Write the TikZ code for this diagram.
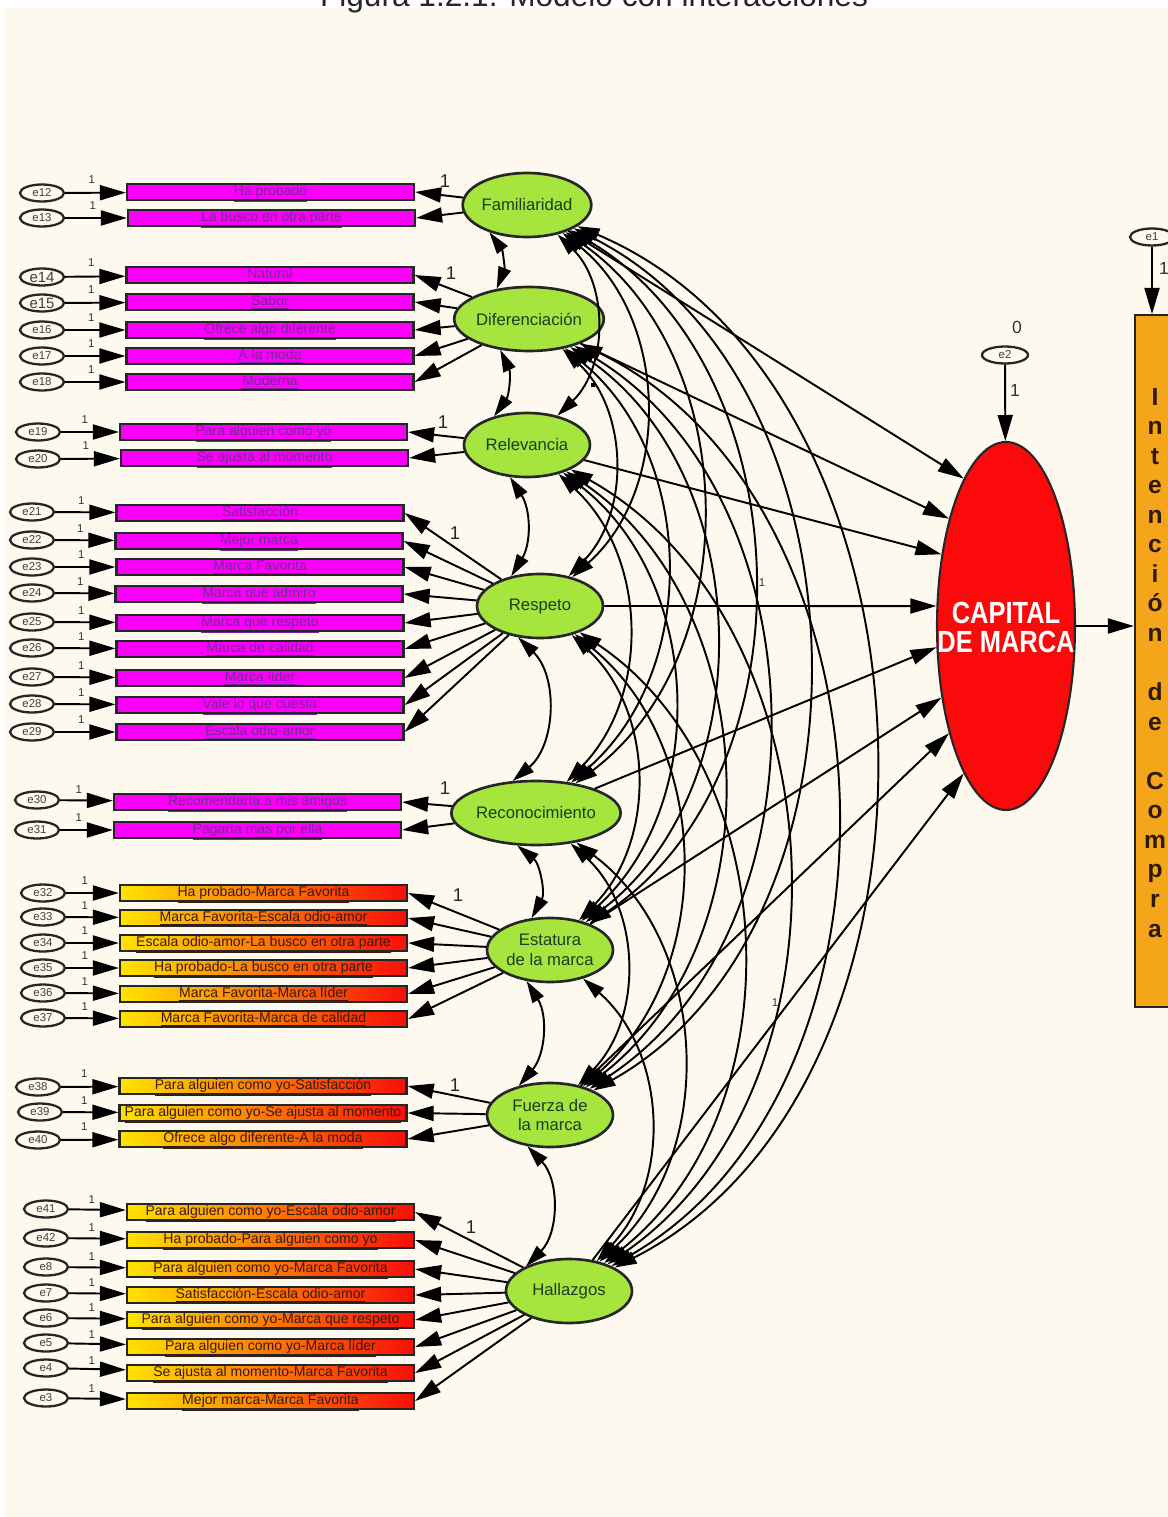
\documentclass[tikz,border=0pt]{standalone}
\usepackage{fontspec}
\setmainfont{Liberation Sans}
\usetikzlibrary{shapes.geometric,arrows.meta}
\definecolor{paper}{RGB}{253,249,238}
\definecolor{boxmag}{RGB}{250,0,250}
\definecolor{indtxt}{RGB}{120,40,150}
\definecolor{gtxt}{RGB}{60,25,10}
\definecolor{gy}{RGB}{255,228,0}
\definecolor{go}{RGB}{255,80,0}
\definecolor{gr}{RGB}{248,14,10}
\definecolor{facg}{RGB}{166,228,62}
\definecolor{factxt}{RGB}{30,60,30}
\definecolor{capred}{RGB}{250,10,10}
\definecolor{intor}{RGB}{245,165,25}
\definecolor{inttxt}{RGB}{45,25,5}
\begin{document}
\begin{tikzpicture}[x=0.02cm,y=-0.02cm,
  err/.style={ellipse,draw=black!85,line width=1.3pt,fill=paper,minimum width=0.88cm,minimum height=0.34cm,inner sep=0pt,text=black!75,font=\fontsize{6.5}{7}\selectfont},
  ind/.style={rectangle,draw=black!85,line width=1.3pt,fill=boxmag,minimum width=5.74cm,minimum height=0.32cm,inner sep=0pt,text height=6pt,text depth=1.6pt,text=indtxt,font=\fontsize{8}{9}\selectfont},
  indg/.style={rectangle,draw=black!85,line width=1.3pt,left color=gy,middle color=go,right color=gr,minimum width=5.74cm,minimum height=0.32cm,inner sep=0pt,text height=6pt,text depth=1.6pt,text=gtxt,font=\fontsize{8}{9}\selectfont},
  fac/.style={ellipse,draw=black!85,line width=1.5pt,fill=facg,minimum width=2.52cm,minimum height=1.28cm,inner sep=0pt,text=factxt,align=center,font=\fontsize{9.5}{11.3}\selectfont},
  arr/.style={line width=1.1pt,-{Triangle[length=0.52cm,width=0.3cm]}},
  cov/.style={line width=1.1pt,{Triangle[length=0.44cm,width=0.26cm]}-{Triangle[length=0.44cm,width=0.26cm]}},
  one/.style={font=\fontsize{6.5}{7}\selectfont,text=black!80,inner sep=0pt},
  load/.style={font=\fontsize{10.5}{12}\selectfont,text=black!85,inner sep=0pt},
  intl/.style={font=\fontsize{14}{15}\selectfont\bfseries,text=inttxt,inner sep=0pt},
]
\useasboundingbox (0,0) rectangle (1168,1517);
\fill[paper] (4,8) rectangle (1168,1517);
\node[anchor=base,font=\fontsize{18}{20}\selectfont,text=black!85] (title) at (594,7) {Figura 1.2.1. Modelo con interacciones};

% latent factors
\node[fac] (fam) at (527,205) {Familiaridad};
\node[fac] (dif) at (529,319) {Diferenciación};
\node[fac] (rel) at (527,445) {Relevancia};
\node[fac] (res) at (540,606) {Respeto};
\node[fac] (rec) at (536,813) {Reconocimiento};
\node[fac] (est) at (550,950) {Estatura\\de la marca};
\node[fac] (fue) at (550,1115) {Fuerza de\\la marca};
\node[fac] (hal) at (569,1291) {Hallazgos};

% observed indicators (plain)
\foreach \n/\ex/\ey/\bx/\by/\fs/\t in {
  12/42/193/270.5/192/6.5/Ha probado,
  13/42/218/271.5/218/6.5/La busco en otra parte,
  14/42/277/270/275/8.5/Natural,
  15/42/303/270/302/8.5/Sabor,
  16/42/330/270/330/6.5/Ofrece algo diferente,
  17/42/356/270/356/6.5/A la moda,
  18/42/382/270/382/6.5/Moderna,
  19/38/432/263.5/432/6.5/Para alguien como yo,
  20/38/459/264.5/458/6.5/Se ajusta al momento,
  21/32/512/260/513/6.5/Satisfacción,
  22/32/540/259/541/6.5/Mejor marca,
  23/32/567/260/567/6.5/Marca Favorita,
  24/32/593/259/594/6.5/Marca que admiro,
  25/32/622/260/623/6.5/Marca que respeto,
  26/32/648/260/649/6.5/Marca de calidad,
  27/32/677/260/678/6.5/Marca líder,
  28/32/704/260/705/6.5/Vale lo que cuesta,
  29/32/732/260/732/6.5/Escala odio-amor,
  30/37/800/257.5/802/6.5/Recomendaría a mis amigos,
  31/37/830/257.5/830/6.5/Pagaría más por ella}{
  \node[err,font=\fontsize{\fs}{9}\selectfont] (e\n) at (\ex,\ey) {e\n};
  \node[ind] (b\n) at (\bx,\by) {\underline{\t}};
  \draw[arr] (e\n) -- (b\n);
  \node[one] (o\n) at ([shift={(-34,-12)}]b\n.west) {1};
}

% observed indicators (interaction terms)
\foreach \n/\ex/\ey/\bx/\by/\t in {
  32/43/893/263.5/893/Ha probado-Marca Favorita,
  33/43/917/263.5/918/Marca Favorita-Escala odio-amor,
  34/43/943/263.5/943/Escala odio-amor-La busco en otra parte,
  35/43/968/263.5/968/Ha probado-La busco en otra parte,
  36/43/993/263.5/994/Marca Favorita-Marca líder,
  37/43/1018/263.5/1019/Marca Favorita-Marca de calidad,
  38/38/1087/263/1086/Para alguien como yo-Satisfacción,
  39/40/1112/263/1113/Para alguien como yo-Se ajusta al momento,
  40/38/1140/263/1139/Ofrece algo diferente-A la moda,
  41/46/1209/270.5/1212/Para alguien como yo-Escala odio-amor,
  42/46/1238/270.5/1240/Ha probado-Para alguien como yo,
  8/46/1267/270.5/1269/Para alguien como yo-Marca Favorita,
  7/46/1293/270.5/1295/Satisfacción-Escala odio-amor,
  6/46/1318/270.5/1320/Para alguien como yo-Marca que respeto,
  5/46/1343/270.5/1347/Para alguien como yo-Marca líder,
  4/46/1368/270.5/1373/Se ajusta al momento-Marca Favorita,
  3/46/1398/270.5/1401/Mejor marca-Marca Favorita}{
  \node[err] (e\n) at (\ex,\ey) {e\n};
  \node[indg] (b\n) at (\bx,\by) {\underline{\t}};
  \draw[arr] (e\n) -- (b\n);
  \node[one] (o\n) at ([shift={(-34,-12)}]b\n.west) {1};
}

% loadings
\foreach \b in {12,13} \draw[arr] (fam) -- (b\b.east);
\foreach \b in {14,...,18} \draw[arr] (dif) -- (b\b.east);
\foreach \b in {19,20} \draw[arr] (rel) -- (b\b.east);
\foreach \b in {21,...,29} \draw[arr] (res) -- (b\b.east);
\foreach \b in {30,31} \draw[arr] (rec) -- (b\b.east);
\foreach \b in {32,...,37} \draw[arr] (est) -- (b\b.east);
\foreach \b in {38,39,40} \draw[arr] (fue) -- (b\b.east);
\foreach \b in {41,42,8,7,6,5,4,3} \draw[arr] (hal) -- (b\b.east);

\node[load] (lfam) at (445,181) {1};
\node[load] (ldif) at (451,273) {1};
\node[load] (lrel) at (443,422) {1};
\node[load] (lres) at (455,533) {1};
\node[load] (lrec) at (445,788) {1};
\node[load] (lest) at (458,895) {1};
\node[load] (lfue) at (455,1085) {1};
\node[load] (lhal) at (471,1227) {1};

% covariances between neighbouring factors
\draw[cov] (fam.216) to[bend left=29] (dif.137);
\draw[cov] (dif.227) to[bend left=30] (rel.139);
\draw[cov] (rel.242) to[bend left=32] (res.134);
\draw[cov] (res.235) to[bend left=48] (rec.126);
\draw[cov] (rec.240) to[bend left=40] (est.120);
\draw[cov] (est.233) to[bend left=36] (fue.137);
\draw[cov] (fue.234) to[bend left=44] (hal.150);

% covariances between distant factors
\foreach \a/\b/\t in {
  fam/rel/46, fam/res/50, fam/rec/54, fam/est/58, fam/fue/62, fam/hal/65,
  dif/res/46, dif/rec/50, dif/est/54, dif/fue/58, dif/hal/62,
  rel/rec/46, rel/est/50, rel/fue/54, rel/hal/58,
  res/est/46, res/fue/50, res/hal/54,
  rec/fue/46, rec/hal/50,
  est/hal/46}
  \draw[cov] (\a) to[bend left=\t] (\b);

\node[one] (m1) at (762,583) {1};
\node[one] (m2) at (775,1003) {1};
\fill (591,383) rectangle (595,387);

% brand equity
\node[ellipse,draw=black!85,line width=1.2pt,fill=capred,minimum width=2.76cm,minimum height=7.36cm,inner sep=0pt] (cap) at (1006,626) {};
\node[text=white,align=center,font=\fontsize{14.5}{16.5}\selectfont\bfseries,inner sep=0pt] (captxt) at (1006,627) {\scalebox{1}[1.2]{CAPITAL}\\\scalebox{1}[1.2]{DE MARCA}};
\foreach \f/\ang in {fam/106,dif/118,rel/132,res/164,rec/197,est/228,fue/242,hal/254}
  \draw[arr] (\f) -- (cap.\ang);

\node[err,minimum width=0.92cm] (e2) at (1005,355) {e2};
\draw[arr] (e2) -- (cap);
\node[font=\fontsize{10}{12}\selectfont,text=black!80,inner sep=0pt] (z2) at (1017,327) {0};
\node[font=\fontsize{10}{12}\selectfont,text=black!80,inner sep=0pt] (o2) at (1015,390) {1};

% purchase intention
\node[rectangle,draw=black!85,line width=1.3pt,fill=intor,minimum width=0.9cm,minimum height=13.84cm,inner sep=0pt] (int) at (1157.5,661) {};
\foreach \ch/\k in {I/0,n/1,t/2,e/3,n/4,c/5,i/6,ó/7,n/8,d/10,e/11,C/13,o/14,m/15,p/16,r/17,a/18}
  \node[intl,anchor=base] (il\k) at (1155,{405+29.56*\k}) {\ch};
\draw[arr] (cap.east) -- (int.west |- cap.east);

\node[err] (e1) at (1152,237) {e1};
\draw[arr] (e1.south) -- (e1.south |- int.north);
\node[font=\fontsize{10}{12}\selectfont,text=black!80,inner sep=0pt] (o1) at (1164,268) {1};
\end{tikzpicture}
\end{document}
